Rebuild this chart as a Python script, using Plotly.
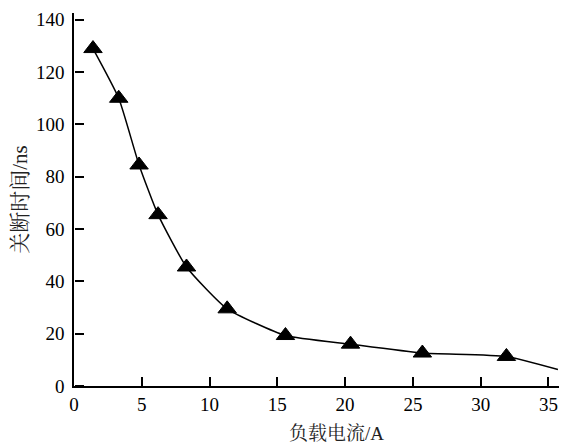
import plotly.graph_objects as go

# Data
current_A = [1.4, 3.3, 4.8, 6.2, 8.3, 11.3, 15.6, 20.4, 25.7, 31.9]
time_ns = [129, 110, 84.5, 65.5, 45.5, 29.5, 19.3, 16.0, 12.6, 11.3]
curve_end_x = [35.7]
curve_end_y = [6.3]

x_ticks = [0, 5, 10, 15, 20, 25, 30, 35]
y_ticks = [0, 20, 40, 60, 80, 100, 120, 140]

x_title = "负载电流/A"
y_title = "关断时间/ns"

x_range = [0, 35.78]
y_range = [0, 142.6]

font_family = '"Liberation Serif", "Noto Serif CJK SC", "Noto Sans CJK SC", serif'

fig = go.Figure()
fig.add_trace(go.Scatter(
    x=current_A + curve_end_x, y=time_ns + curve_end_y,
    mode="lines", line=dict(color="black", width=1.5, shape="spline", smoothing=0.5),
    hoverinfo="skip", showlegend=False))
fig.add_trace(go.Scatter(
    x=current_A, y=time_ns, mode="markers", yaxis="y2",
    marker=dict(symbol="triangle-up", size=16, color="black",
                line=dict(color="black", width=1)),
    showlegend=False))

axis_common = dict(
    showline=True, linecolor="black", linewidth=1.5,
    ticklen=9, tickwidth=1.5, tickcolor="black",
    showgrid=False, zeroline=False, automargin=False,
    tickfont=dict(family=font_family, size=19, color="black"),
)

fig.update_xaxes(range=x_range, tickmode="array", tickvals=x_ticks, ticks="inside",
                 **axis_common)
fig.update_yaxes(range=y_range, tickmode="array", tickvals=y_ticks, ticks="",
                 ticklabelstandoff=4,
                 **axis_common,
                 title=dict(text=y_title, font=dict(family=font_family, size=21, color="#222"), standoff=6))

# tick marks pointing into the plot from the left axis
fig.update_layout(yaxis2=dict(
    overlaying="y", side="right", anchor="free", position=0,
    range=y_range, tickmode="array", tickvals=y_ticks, ticks="outside",
    ticklen=9, tickwidth=1.5, tickcolor="black", showticklabels=False,
    showline=False, showgrid=False, zeroline=False, automargin=False,
))

fig.add_annotation(text=x_title, xref="paper", yref="paper", x=0.542, y=0,
                   xanchor="center", yanchor="middle", yshift=-47, showarrow=False,
                   font=dict(family=font_family, size=19, color="#222"))

# The page body has an 8px margin, so the figure is sized to fit the 575x445 window
fig.update_layout(
    width=567, height=437,
    margin=dict(l=66, r=16, t=5, b=59),
    paper_bgcolor="white", plot_bgcolor="white",
)

fig.write_html("out.html")
